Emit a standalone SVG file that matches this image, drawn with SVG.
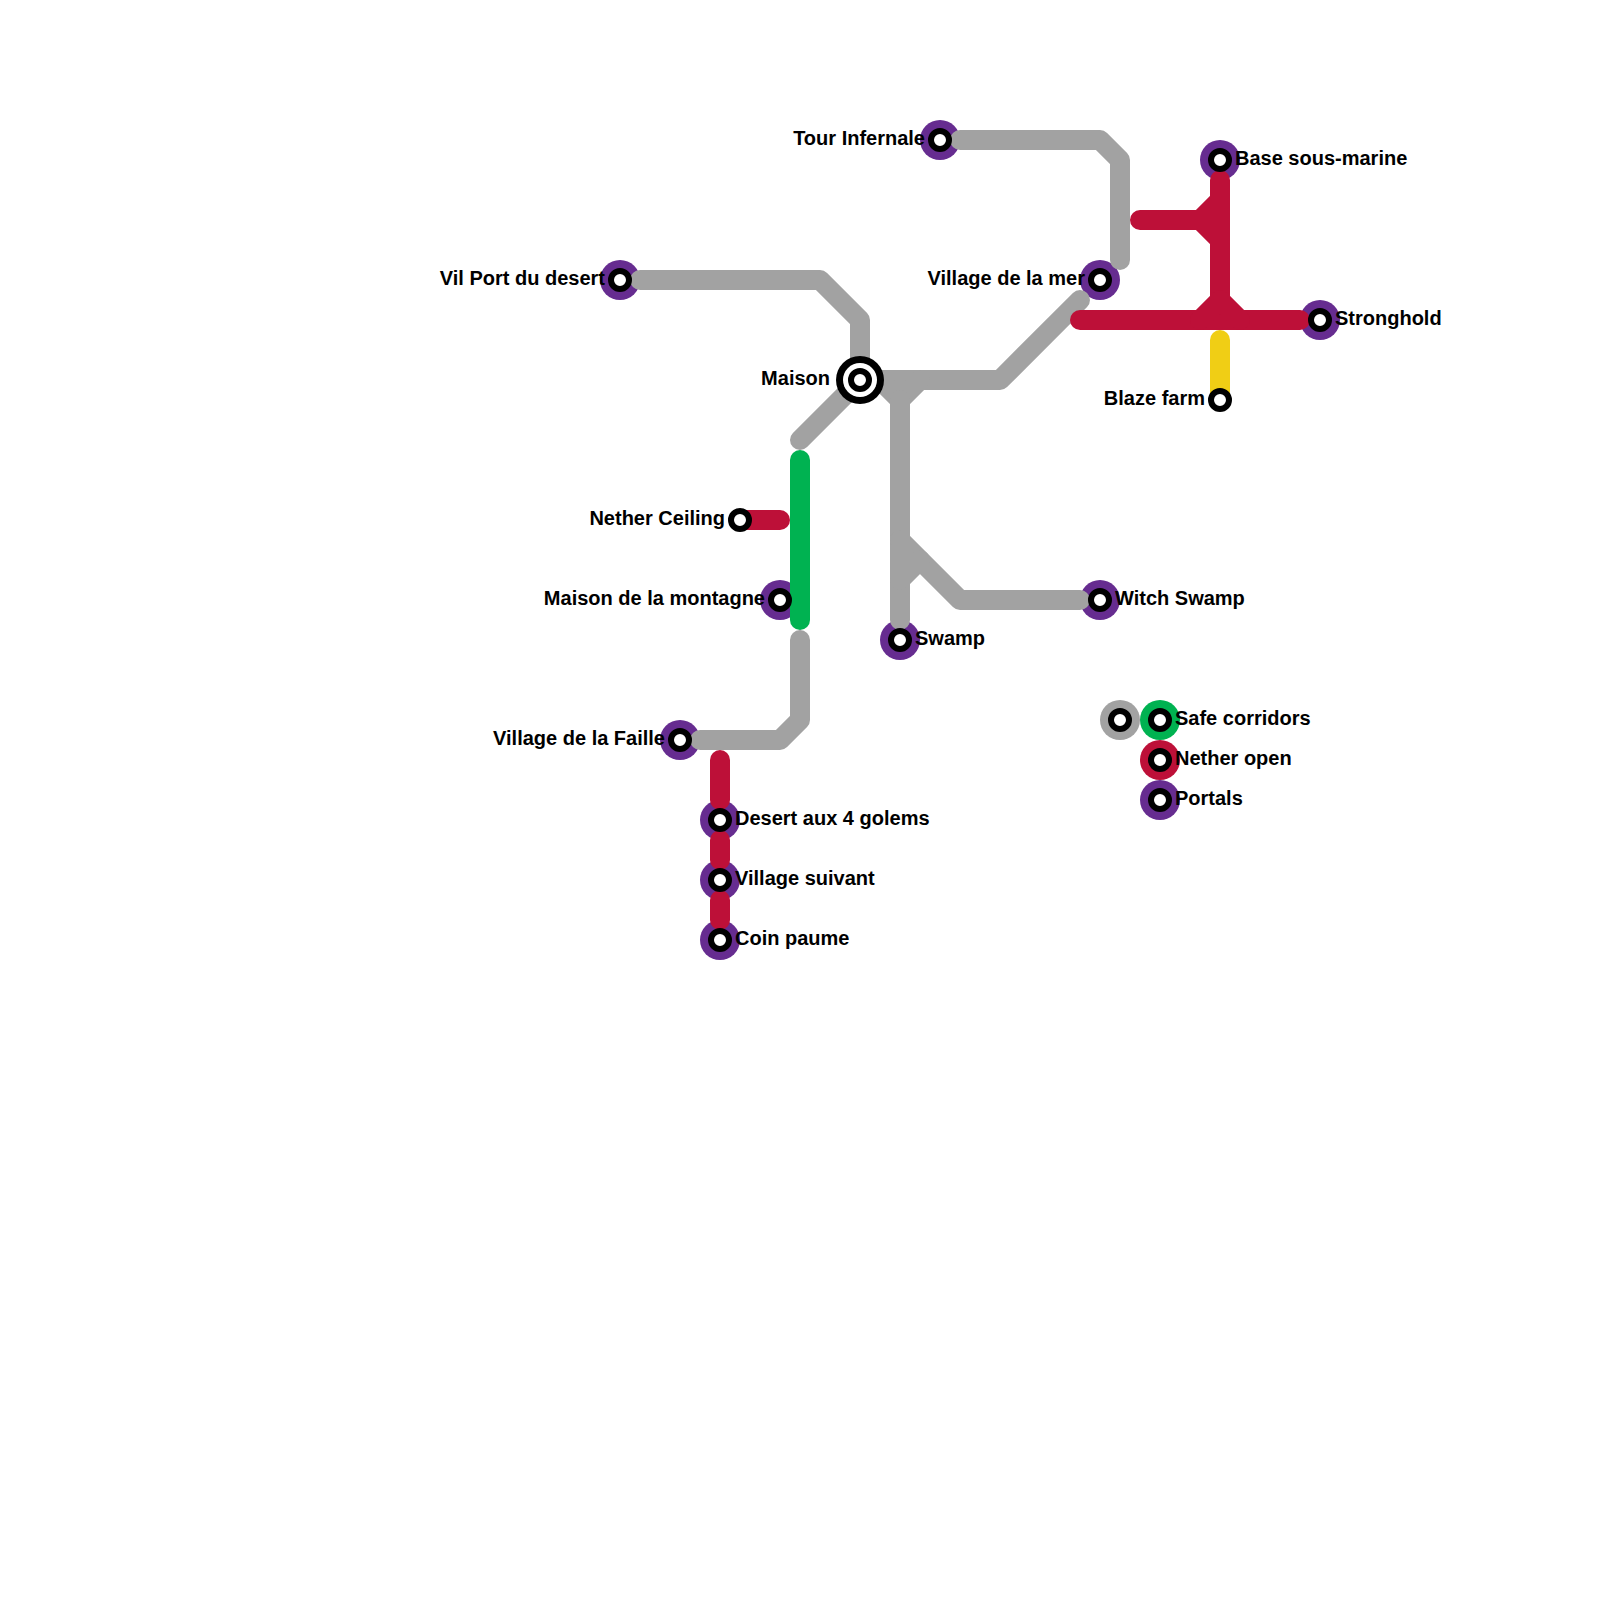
<svg xmlns="http://www.w3.org/2000/svg" width="1600" height="1600" viewBox="0 0 1600 1600">
<style>
.l{fill:none;stroke-width:20;stroke-linecap:round;stroke-linejoin:round}
.g{stroke:#a2a2a2}.r{stroke:#bd1038}.v{stroke:#00b251}.y{stroke:#f0ce15}
.h{fill:#662c90}
.s{fill:#fff;stroke:#000;stroke-width:6}
text{font-family:"Liberation Sans",Arial,sans-serif;font-weight:bold;font-size:20px;fill:#000}
.e{text-anchor:end}
</style>
<rect width="1600" height="1600" fill="#fff"/>
<g id="halos">
<circle class="h" cx="940" cy="140" r="20"/>
<circle class="h" cx="1220" cy="160" r="20"/>
<circle class="h" cx="1100" cy="280" r="20"/>
<circle class="h" cx="1320" cy="320" r="20"/>
<circle class="h" cx="620" cy="280" r="20"/>
<circle class="h" cx="780" cy="600" r="20"/>
<circle class="h" cx="900" cy="640" r="20"/>
<circle class="h" cx="1100" cy="600" r="20"/>
<circle class="h" cx="680" cy="740" r="20"/>
<circle class="h" cx="720" cy="820" r="20"/>
<circle class="h" cx="720" cy="880" r="20"/>
<circle class="h" cx="720" cy="940" r="20"/>
<circle cx="1120" cy="720" r="20" fill="#a2a2a2"/>
<circle cx="1160" cy="720" r="20" fill="#00b251"/>
<circle cx="1160" cy="760" r="20" fill="#bd1038"/>
<circle class="h" cx="1160" cy="800" r="20"/>
</g>
<g id="connectors">
<path class="l g" d="M640 280H820L860 320V380"/>
<path class="l g" d="M860 380L800 440"/>
<path class="l g" d="M860 380H1000L1080 300"/>
<path class="l g" d="M880 380L900 400L920 380"/>
<path class="l g" d="M900 400V620"/>
<path class="l g" d="M900 540L960 600H1080"/>
<path class="l g" d="M900 580L920 560"/>
<path class="l g" d="M960 140H1100L1120 160V260"/>
<path class="l g" d="M700 740H780L800 720V640"/>
<path class="l v" d="M800 460V620"/>
<path class="l r" d="M740 520H780"/>
<path class="l r" d="M720 760V800"/>
<path class="l r" d="M720 840V860"/>
<path class="l r" d="M720 900V920"/>
<path class="l r" d="M1140 220H1200L1220 200M1200 220L1220 240"/>
<path class="l r" d="M1220 180V320"/>
<path class="l r" d="M1080 320H1300"/>
<path class="l r" d="M1200 320L1220 300L1240 320"/>
<path class="l y" d="M1220 340V400"/>
</g>
<g id="tour-infernale"><circle class="s" cx="940" cy="140" r="9"/><text class="e" x="925" y="145">Tour Infernale</text></g>
<g id="base-sous-marine"><circle class="s" cx="1220" cy="160" r="9"/><text x="1235" y="165">Base sous-marine</text></g>
<g id="village-de-la-mer"><circle class="s" cx="1100" cy="280" r="9"/><text class="e" x="1085" y="285">Village de la mer</text></g>
<g id="stronghold"><circle class="s" cx="1320" cy="320" r="9"/><text x="1335" y="325">Stronghold</text></g>
<g id="blaze-farm"><circle class="s" cx="1220" cy="400" r="9"/><text class="e" x="1205" y="405">Blaze farm</text></g>
<g id="vil-port"><circle class="s" cx="620" cy="280" r="9"/><text class="e" x="605" y="285">Vil Port du desert</text></g>
<g id="maison">
<circle cx="860" cy="380" r="24" fill="#000"/><circle cx="860" cy="380" r="17" fill="#fff"/><circle class="s" cx="860" cy="380" r="9"/>
<text class="e" x="830" y="385">Maison</text></g>
<g id="nether-ceiling"><circle class="s" cx="740" cy="520" r="9"/><text class="e" x="725" y="525">Nether Ceiling</text></g>
<g id="maison-montagne"><circle class="s" cx="780" cy="600" r="9"/><text class="e" x="765" y="605">Maison de la montagne</text></g>
<g id="swamp"><circle class="s" cx="900" cy="640" r="9"/><text x="915" y="645">Swamp</text></g>
<g id="witch-swamp"><circle class="s" cx="1100" cy="600" r="9"/><text x="1115" y="605">Witch Swamp</text></g>
<g id="village-faille"><circle class="s" cx="680" cy="740" r="9"/><text class="e" x="665" y="745">Village de la Faille</text></g>
<g id="desert"><circle class="s" cx="720" cy="820" r="9"/><text x="735" y="825">Desert aux 4 golems</text></g>
<g id="village-suivant"><circle class="s" cx="720" cy="880" r="9"/><text x="735" y="885">Village suivant</text></g>
<g id="coin-paume"><circle class="s" cx="720" cy="940" r="9"/><text x="735" y="945">Coin paume</text></g>
<g id="legend-grey"><circle class="s" cx="1120" cy="720" r="9"/></g>
<g id="legend-safe"><circle class="s" cx="1160" cy="720" r="9"/><text x="1175" y="725">Safe corridors</text></g>
<g id="legend-nether"><circle class="s" cx="1160" cy="760" r="9"/><text x="1175" y="765">Nether open</text></g>
<g id="legend-portals"><circle class="s" cx="1160" cy="800" r="9"/><text x="1175" y="805">Portals</text></g>
</svg>
